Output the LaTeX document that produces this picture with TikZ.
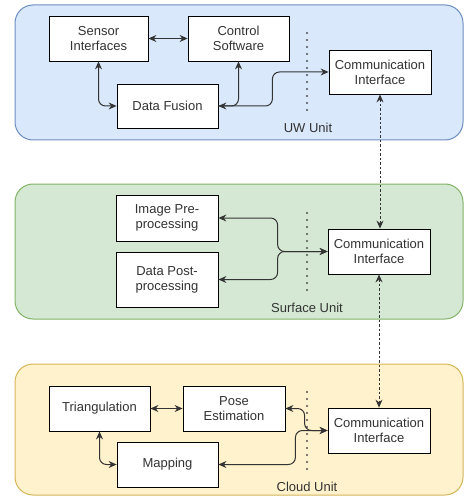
\documentclass[tikz,border=0pt]{standalone}
\usepackage{fontspec}
\setmainfont{Liberation Sans}
\usetikzlibrary{arrows.meta}
\definecolor{uwfill}{HTML}{DAE8FC}
\definecolor{uwline}{HTML}{6C8EBF}
\definecolor{sufill}{HTML}{D5E8D4}
\definecolor{suline}{HTML}{82B366}
\definecolor{clfill}{HTML}{FFF2CC}
\definecolor{clline}{HTML}{D6B656}
\definecolor{ink}{HTML}{333333}
\begin{document}
\begin{tikzpicture}[x=1pt, y=-1pt,
  blk/.style={draw=black, fill=white, line width=0.8pt, minimum width=101pt, minimum height=45pt, align=center, inner sep=1pt, text=ink, font=\fontsize{13}{15}\selectfont},
  lbl/.style={text=ink, font=\fontsize{13}{15}\selectfont, inner sep=0pt},
  lnk/.style={draw=ink, line width=1pt, rounded corners=7pt, {Stealth[length=8pt,width=7pt]}-{Stealth[length=8pt,width=7pt]}},
  onelnk/.style={draw=ink, line width=1pt, rounded corners=7pt, -{Stealth[length=8pt,width=7pt]}},
  dlnk/.style={draw=ink, line width=1pt, dash pattern=on 2.5pt off 2pt, {Stealth[length=8pt,width=7pt]}-{Stealth[length=8pt,width=7pt]}},
  sep/.style={draw=ink!85, line width=2.2pt, line cap=round, dash pattern=on 0pt off 7pt}]
\useasboundingbox (0,0) rectangle (465,497);
\draw[fill=uwfill, draw=uwline, line width=1pt, rounded corners=18pt] (15,5) rectangle (463,140);
\draw[fill=sufill, draw=suline, line width=1pt, rounded corners=18pt] (15,184) rectangle (463,319);
\draw[fill=clfill, draw=clline, line width=1pt, rounded corners=18pt] (15,364) rectangle (463,495);

\node[blk, minimum width=99pt] (sensor) at (98.5,38.5) {Sensor\\Interfaces};
\node[blk] (control) at (238.5,38.5) {Control\\Software};
\node[blk, minimum height=44pt] (fusion) at (167.5,106) {Data Fusion};
\node[blk, minimum width=102pt, minimum height=44pt] (comm1) at (380,72) {Communication\\Interface};
\draw[sep] (307,33) -- (307,117);
\node[lbl] (uwlbl) at (308,128) {UW Unit};
\draw[lnk] (sensor) -- (control);
\draw[lnk] (sensor.south) |- (fusion.west);
\draw[lnk] (control.south) |- (fusion.east);
\draw[onelnk] (fusion.east) -- ++(54,0) |- (comm1.west);

\node[blk, minimum width=102pt, minimum height=46pt] (imgpre) at (167,218) {Image Pre-\\processing};
\node[blk, minimum width=102pt, minimum height=55pt] (datapost) at (167,279.5) {Data Post-\\processing};
\node[blk, minimum width=102pt] (comm2) at (379,251.5) {Communication\\Interface};
\draw[sep] (307,213) -- (307,296);
\node[lbl] (sulbl) at (307,308) {Surface Unit};
\draw[lnk] (comm2.west) -- ++(-50,0) |- (imgpre.east);
\draw[lnk] (comm2.west) -- ++(-50,0) |- (datapost.east);

\node[blk] (triang) at (99.5,408.5) {Triangulation};
\node[blk, minimum width=102pt] (pose) at (234,408.5) {Pose\\Estimation};
\node[blk] (mapping) at (167.5,464.5) {Mapping};
\node[blk, minimum width=102pt] (comm3) at (379,430.5) {Communication\\Interface};
\draw[sep] (307,392) -- (307,475);
\node[lbl] (cllbl) at (307,487) {Cloud Unit};
\draw[lnk] (triang) -- (pose);
\draw[lnk] (triang.south) |- (mapping.west);
\draw[lnk] (comm3.west) -- ++(-23,0) |- (pose.east);
\draw[lnk] (mapping.east) -- ++(77,0) |- (comm3.west);

\draw[dlnk] (comm1.south) -- (comm2.north -| comm1.south);
\draw[dlnk] (comm2.south) -- (comm3.north);
\end{tikzpicture}
\end{document}
